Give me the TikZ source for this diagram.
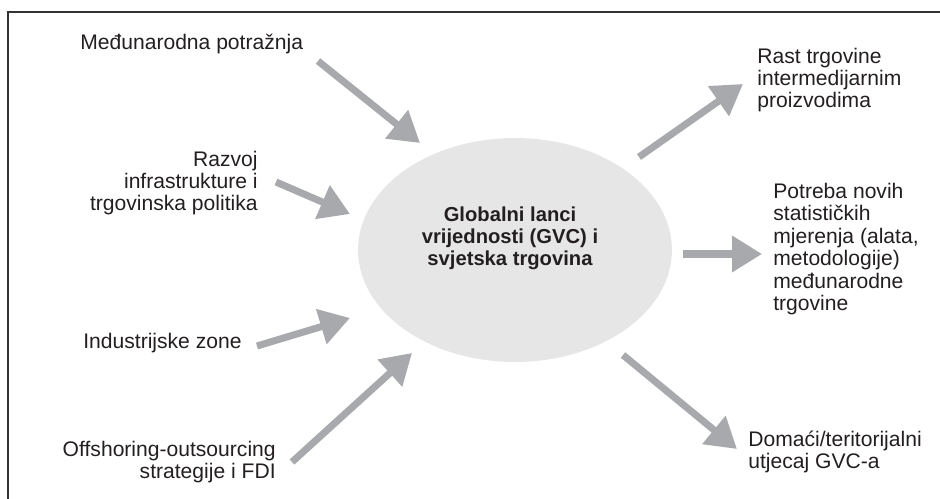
\documentclass[tikz,border=0pt]{standalone}
\usepackage{fontspec}
\setmainfont{Liberation Sans}
\usepackage{tikz}
\usetikzlibrary{arrows.meta,positioning,calc,shapes.geometric}
\usepackage{xcolor}
\definecolor{arrowgray}{RGB}{167,169,172}
\definecolor{ellgray}{RGB}{230,230,230}
\definecolor{textdark}{RGB}{35,31,32}

\begin{document}
\begin{tikzpicture}[x=0.02cm,y=-0.02cm,
        flow/.style={draw=arrowgray,line width=4pt,-{Triangle[length=0.6cm,width=0.7cm,fill=arrowgray]}},
        lbl/.style={text=textdark,font=\fontsize{12}{12.75}\selectfont,inner sep=0pt}]
        \useasboundingbox (0,0) rectangle (940,499);
        \draw[black!80,line width=0.8pt] (8,499) -- (8,12) -- (940,12);

        % central ellipse
        \node[ellipse,fill=ellgray,minimum width=6.28cm,minimum height=4.48cm] (gvc) at (515,250) {};
        \node[lbl,font=\bfseries\fontsize{11.5}{12.6}\selectfont,align=center] (gvctxt) at (510,238) {Globalni lanci\\vrijednosti (GVC) i\\svjetska trgovina};

        % drivers (left)
        \node[lbl,anchor=west] (demand) at (80,44) {Međunarodna potražnja};
        \node[lbl,anchor=east,align=right] (infra) at (258,183) {Razvoj\\infrastrukture i\\trgovinska politika};
        \node[lbl,anchor=west] (zones) at (83,343) {Industrijske zone};
        \node[lbl,anchor=east,align=right] (offshore) at (276,462) {Offshoring-outsourcing\\strategije i FDI};

        % effects (right)
        \node[lbl,anchor=west,align=left] (growth) at (757,80) {Rast trgovine\\intermedijarnim\\proizvodima};
        \node[lbl,anchor=west,align=left] (stats) at (773,249) {Potreba novih\\statističkih\\mjerenja (alata,\\metodologije)\\međunarodne\\trgovine};
        \node[lbl,anchor=west,align=left] (impact) at (748,452) {Domaći/teritorijalni\\utjecaj GVC-a};

        \coordinate (demand-s) at (318,61);
        \coordinate (demand-t) at (420,143);
        \coordinate (infra-s) at (276,182);
        \coordinate (infra-t) at (350,214);
        \coordinate (zones-s) at (257,346);
        \coordinate (zones-t) at (350,318);
        \coordinate (offshore-s) at (292,462);
        \coordinate (offshore-t) at (412,353);
        \coordinate (growth-s) at (639,157);
        \coordinate (growth-t) at (743,84);
        \coordinate (stats-s) at (683,254);
        \coordinate (stats-t) at (762,254);
        \coordinate (impact-s) at (623,355);
        \coordinate (impact-t) at (737,449);

        \draw[flow] (demand-s) -- (demand-t);
        \draw[flow] (infra-s) -- (infra-t);
        \draw[flow] (zones-s) -- (zones-t);
        \draw[flow] (offshore-s) -- (offshore-t);
        \draw[flow] (growth-s) -- (growth-t);
        \draw[flow] (stats-s) -- (stats-t);
        \draw[flow] (impact-s) -- (impact-t);
    \end{tikzpicture}
\end{document}
